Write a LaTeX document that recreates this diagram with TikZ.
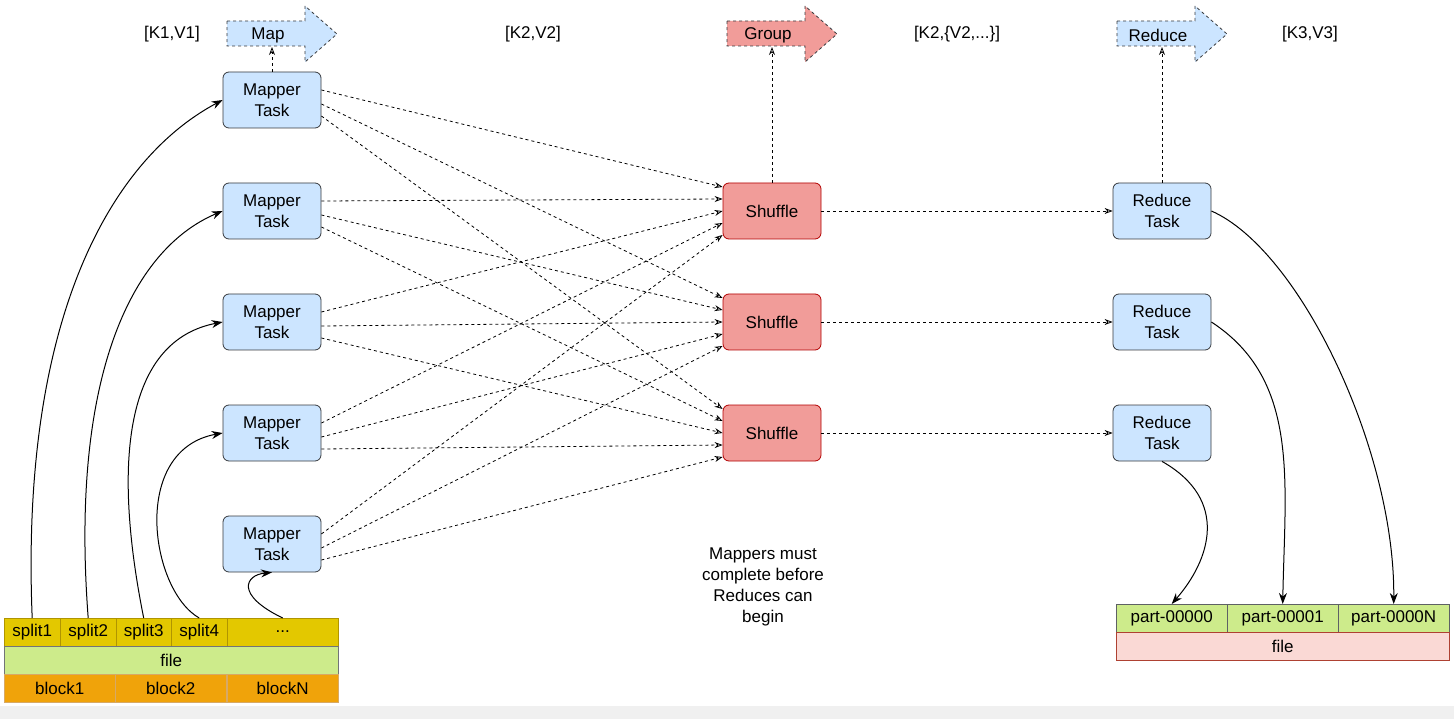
\documentclass[tikz,border=0pt]{standalone}
\usepackage{fontspec}
\setmainfont{Liberation Sans}
\usetikzlibrary{arrows.meta}
\definecolor{bluef}{HTML}{CCE5FF}
\definecolor{blued}{HTML}{36393D}
\definecolor{redf}{HTML}{F19C99}
\definecolor{redd}{HTML}{B20000}
\definecolor{splitf}{HTML}{E3C800}
\definecolor{splitd}{HTML}{B09500}
\definecolor{greenf}{HTML}{CDEB8B}
\definecolor{blockf}{HTML}{F0A30A}
\definecolor{blockd}{HTML}{BD7000}
\definecolor{pinkf}{HTML}{FAD9D5}
\definecolor{pinkd}{HTML}{AE4132}
\newcommand\mydots{...}
\begin{document}
\begin{tikzpicture}[x=1pt,y=-1pt,font=\fontsize{17}{21}\selectfont,
 task/.style={draw=blued,fill=bluef,rounded corners=6pt,minimum width=98pt,minimum height=56pt,align=center,line width=0.8pt,inner sep=1pt},
 shuf/.style={task,draw=redd,fill=redf},
 bigarrow/.style={draw=blued,dashed,line width=0.8pt},
 dconn/.style={dashed,line width=0.8pt,-{Stealth[open,length=8pt,width=6pt]}},
 sconn/.style={line width=1pt,-{Stealth[length=11pt,width=8pt]}},
 cell/.style={draw,minimum height=27.5pt,inner sep=0pt,anchor=north west}]
\useasboundingbox (0,0) rectangle (1454,719);
\fill[black!6] (0,706) rectangle (1454,719);
% top arrows
\foreach \x/\c/\n in {227/bluef/amap,727/redf/agrp,1117/bluef/ared}
  \draw[bigarrow,fill=\c] (\x,21) -- ++(78,0) -- ++(0,-15) -- ++(32,28) -- ++(-32,28) -- ++(0,-16) -- ++(-78,0) -- cycle;
\node at (268,35) (tmap) {Map};
\node at (768,35) (tgrp) {Group};
\node at (1158,35) (tred) {Reduce};
\node (l1) at (172,34) {[K1,V1]};
\node (l2) at (533,34) {[K2,V2]};
\node (l3) at (957,34) {[K2,\{V2,\mydots\}]};
\node (l4) at (1310,34) {[K3,V3]};
\coordinate (cm) at (272,47);
\coordinate (cg) at (772,47);
\coordinate (cr) at (1162,47);
% mappers
\foreach \i/\y in {1/100,2/211,3/322,4/433,5/544}
  \node[task] (m\i) at (272,\y) {Mapper\\Task};
\foreach \i/\y in {1/211,2/322,3/433}{
  \node[shuf] (s\i) at (772,\y) {Shuffle};
  \node[task] (r\i) at (1162,\y) {Reduce\\Task};
  \draw[dconn] (s\i) -- (r\i);
}
\draw[dconn] (m1.north) -- (cm);
\draw[dconn] (s1.north) -- (cg);
\draw[dconn] (r1.north) -- (cr);
% mapper -> shuffle
\foreach \i in {1,2,3,4,5}{
  \foreach \j/\o in {1/-10,2/4,3/16}{
    \pgfmathsetmacro\e{-24+12*(\i-1)}
    \draw[dconn] ([yshift=-\o pt]m\i.east) -- ([yshift=-\e pt]s\j.west);
  }
}
% left table
\foreach \k/\x/\w/\t in {1/4/56/split1,2/60/56/split2,3/116/55/split3,4/171/56/split4,5/227/111/\mydots}
  \node[cell,draw=splitd,fill=splitf,minimum width=\w pt] (sp\k) at (\x,618) {\t};
\node[cell,draw=blued!70,fill=greenf,minimum width=334pt] (lf) at (4,646) {file};
\foreach \k/\x/\t in {1/4/block1,2/115/block2,3/227/blockN}
  \node[cell,draw=blockd!60,fill=blockf,minimum width=111pt] (b\k) at (\x,674) {\t};
\draw[sconn] (sp1.north) .. controls (20,320) and (110,160) .. (m1.west);
\draw[sconn] (sp2.north) .. controls (70,380) and (130,250) .. (m2.west);
\draw[sconn] (sp3.north) .. controls (110,450) and (130,340) .. (m3.west);
\draw[sconn] (sp4.north) .. controls (150,590) and (130,450) .. (m4.west);
\draw[sconn] (sp5.north) .. controls (235,595) and (245,575) .. (m5.south);
% right table
\foreach \k/\x/\t in {1/1116/part-00000,2/1227/part-00001,3/1338/part-0000N}
  \node[cell,draw=blued!80,fill=greenf,minimum width=111pt] (p\k) at (\x,604) {\t};
\node[cell,draw=pinkd,fill=pinkf,minimum width=333pt] (rf) at (1116,632) {file};
\draw[sconn] (r1.east) .. controls (1300,250) and (1395,450) .. (p3.north);
\draw[sconn] (r2.east) .. controls (1300,380) and (1285,480) .. (p2.north);
\draw[sconn] (r3.south) .. controls (1230,500) and (1210,560) .. (p1.north);
\node[align=center] (note) at (763,587) {Mappers must\\complete before\\Reduces can\\begin};
\end{tikzpicture}
\end{document}
